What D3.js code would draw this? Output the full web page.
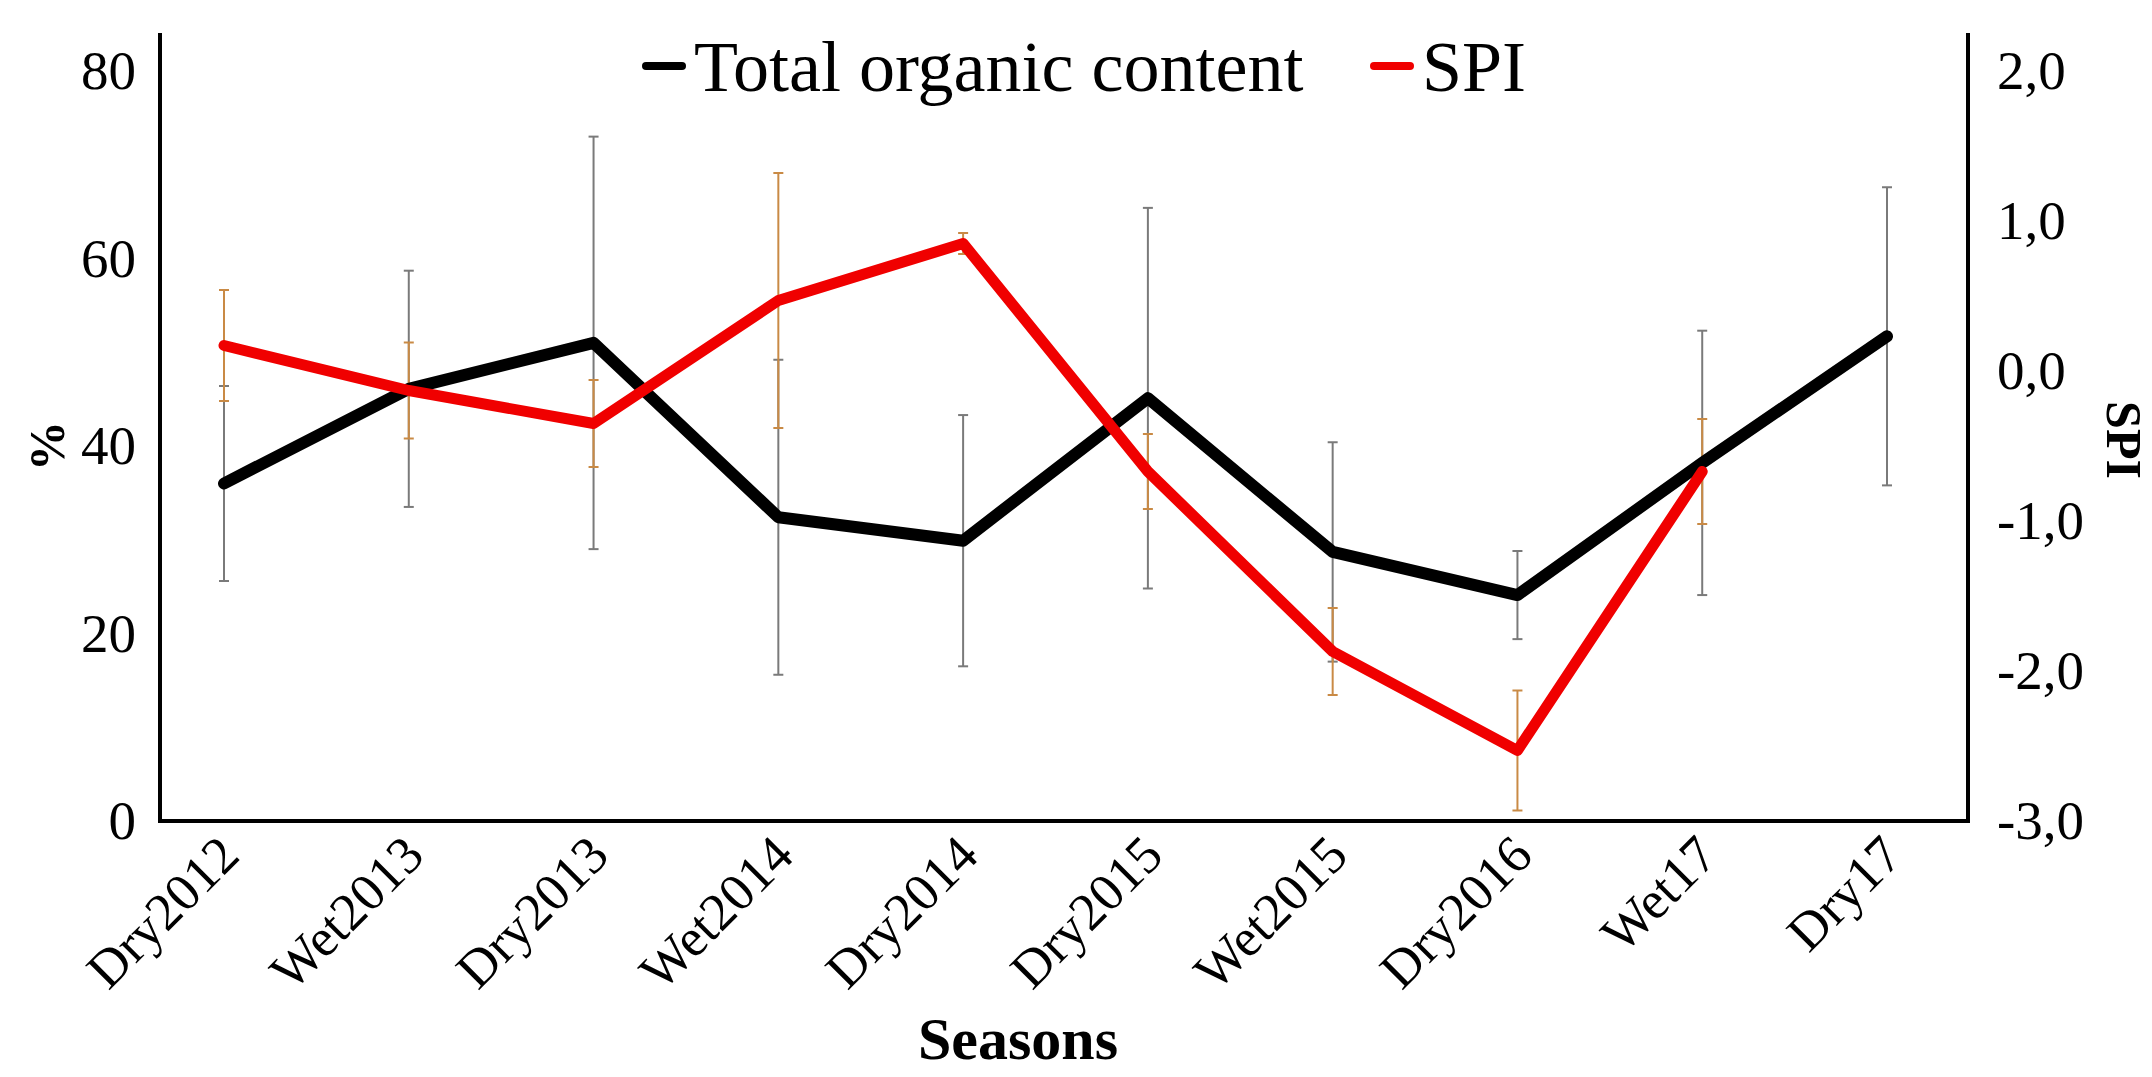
<!DOCTYPE html>
<html>
<head>
<meta charset="utf-8">
<script src="https://d3js.org/d3.v7.min.js"></script>
<style>
  body { margin: 0; background: #fff; }
  text { font-family: "Liberation Serif", "Times New Roman", serif; }
</style>
</head>
<body>
<div id="my_dataviz"></div>
<script>
// data
var seasons = ["Dry2012", "Wet2013", "Dry2013", "Wet2014", "Dry2014", "Dry2015", "Wet2015", "Dry2016", "Wet17", "Dry17"];
var organic = [36.0, 46.1, 51.0, 32.4, 29.9, 45.1, 28.7, 24.1, 38.2, 51.7];
var organicErr = [10.4, 12.6, 22.0, 16.8, 13.4, 20.3, 11.7, 4.7, 14.1, 15.9];
var spi = [0.17, -0.13, -0.35, 0.47, 0.85, -0.67, -1.87, -2.53, -0.67, null];
var spiErr = [0.37, 0.32, 0.29, 0.85, 0.07, 0.25, 0.29, 0.40, 0.35, null];
var leftTicks = [0, 20, 40, 60, 80];
var rightTicks = [-3, -2, -1, 0, 1, 2];

// set the dimensions and margins of the graph
var margin = { top: 33, right: 184, bottom: 256, left: 160 },
    width = 2152 - margin.left - margin.right,
    height = 1077 - margin.top - margin.bottom;

var svg = d3.select("#my_dataviz")
    .append("svg")
    .attr("width", width + margin.left + margin.right)
    .attr("height", height + margin.top + margin.bottom)
    .append("g")
    .attr("transform", "translate(" + margin.left + "," + margin.top + ")");

// scales
var x = d3.scalePoint()
    .domain(seasons)
    .range([64, width - 81]);

var y = d3.scaleLinear()
    .domain([0, 80])
    .range([height, 38]);

var y2 = d3.scaleLinear()
    .domain([-3, 2])
    .range([height, 38]);

var rows = seasons.map(function(s, i) {
    return { season: s, toc: organic[i], tocErr: organicErr[i], spi: spi[i], spiErr: spiErr[i] };
});

// error bars for total organic content (grey)
var capW = 5;
var gErr = svg.append("g");
rows.forEach(function(d) {
    var cx = x(d.season);
    gErr.append("line")
        .attr("x1", cx).attr("x2", cx)
        .attr("y1", y(d.toc + d.tocErr)).attr("y2", y(d.toc - d.tocErr))
        .attr("stroke", "#7a7a7a").attr("stroke-width", 2);
    [d.toc + d.tocErr, d.toc - d.tocErr].forEach(function(v) {
        gErr.append("line")
            .attr("x1", cx - capW).attr("x2", cx + capW)
            .attr("y1", y(v)).attr("y2", y(v))
            .attr("stroke", "#7a7a7a").attr("stroke-width", 2);
    });
});

// error bars for SPI (orange)
rows.filter(function(d) { return d.spi != null; }).forEach(function(d) {
    var cx = x(d.season);
    gErr.append("line")
        .attr("x1", cx).attr("x2", cx)
        .attr("y1", y2(d.spi + d.spiErr)).attr("y2", y2(d.spi - d.spiErr))
        .attr("stroke", "#c98a45").attr("stroke-width", 2);
    [d.spi + d.spiErr, d.spi - d.spiErr].forEach(function(v) {
        gErr.append("line")
            .attr("x1", cx - capW).attr("x2", cx + capW)
            .attr("y1", y2(v)).attr("y2", y2(v))
            .attr("stroke", "#c98a45").attr("stroke-width", 2);
    });
});

// lines
svg.append("path")
    .datum(rows)
    .attr("fill", "none")
    .attr("stroke", "#000")
    .attr("stroke-width", 12)
    .attr("stroke-linejoin", "round")
    .attr("stroke-linecap", "round")
    .attr("d", d3.line()
        .x(function(d) { return x(d.season); })
        .y(function(d) { return y(d.toc); }));

svg.append("path")
    .datum(rows)
    .attr("fill", "none")
    .attr("stroke", "#f00000")
    .attr("stroke-width", 11)
    .attr("stroke-linejoin", "round")
    .attr("stroke-linecap", "round")
    .attr("d", d3.line()
        .defined(function(d) { return d.spi != null; })
        .x(function(d) { return x(d.season); })
        .y(function(d) { return y2(d.spi); }));

// axis lines
svg.append("line")
    .attr("x1", 0).attr("x2", 0).attr("y1", 0).attr("y2", height + 2)
    .attr("stroke", "#000").attr("stroke-width", 4);
svg.append("line")
    .attr("x1", width).attr("x2", width).attr("y1", 0).attr("y2", height + 2)
    .attr("stroke", "#000").attr("stroke-width", 4);
svg.append("line")
    .attr("x1", -2).attr("x2", width + 2).attr("y1", height).attr("y2", height)
    .attr("stroke", "#000").attr("stroke-width", 4);

// Add Y axis (left)
var yAxis = svg.append("g")
    .call(d3.axisLeft(y).tickValues(leftTicks).tickSize(0).tickPadding(24));
yAxis.select(".domain").remove();
yAxis.selectAll("text")
    .style("font-family", "Liberation Serif")
    .style("font-size", "55px")
    .attr("fill", "#000");

// Add Y axis (right)
var y2Axis = svg.append("g")
    .attr("transform", "translate(" + width + ",0)")
    .call(d3.axisRight(y2).tickValues(rightTicks).tickSize(0).tickPadding(29)
        .tickFormat(function(d) { return d3.format(".1f")(d).replace(".", ",").replace("−", "-"); }));
y2Axis.select(".domain").remove();
y2Axis.selectAll("text")
    .style("font-family", "Liberation Serif")
    .style("font-size", "55px")
    .attr("fill", "#000");

// Add X axis labels
var xAxis = svg.append("g")
    .attr("transform", "translate(0," + height + ")")
    .call(d3.axisBottom(x).tickSize(0).tickPadding(0));
xAxis.select(".domain").remove();
xAxis.selectAll("text")
    .style("font-family", "Liberation Serif")
    .style("font-size", "53px")
    .attr("fill", "#000")
    .attr("text-anchor", "end")
    .attr("dy", "0.35em")
    .attr("y", 0)
    .attr("transform", "translate(4,24) rotate(-45)");

// axis titles
svg.append("text")
    .attr("transform", "translate(" + (-114) + "," + 413 + ") rotate(-90)")
    .attr("text-anchor", "middle")
    .attr("dy", "0.35em")
    .style("font-size", "50px")
    .style("font-weight", "bold")
    .text("%");

svg.append("text")
    .attr("transform", "translate(" + (width + 156) + "," + 407 + ") rotate(90)")
    .attr("text-anchor", "middle")
    .attr("dy", "0.35em")
    .style("font-size", "50px")
    .style("font-weight", "bold")
    .text("SPI");

svg.append("text")
    .attr("x", 858)
    .attr("y", 1026)
    .attr("text-anchor", "middle")
    .style("font-size", "60px")
    .style("font-weight", "bold")
    .text("Seasons");

// legend
var legend = [
    { name: "Total organic content", color: "#000", x: 482 },
    { name: "SPI", color: "#f00000", x: 1210 }
];
var lg = svg.append("g");
legend.forEach(function(l) {
    lg.append("line")
        .attr("x1", l.x + 4).attr("x2", l.x + 40)
        .attr("y1", 33).attr("y2", 33)
        .attr("stroke", l.color)
        .attr("stroke-width", 8)
        .attr("stroke-linecap", "round");
    lg.append("text")
        .attr("x", l.x + 52)
        .attr("y", 58)
        .style("font-size", "72px")
        .text(l.name);
});
</script>
</body>
</html>
